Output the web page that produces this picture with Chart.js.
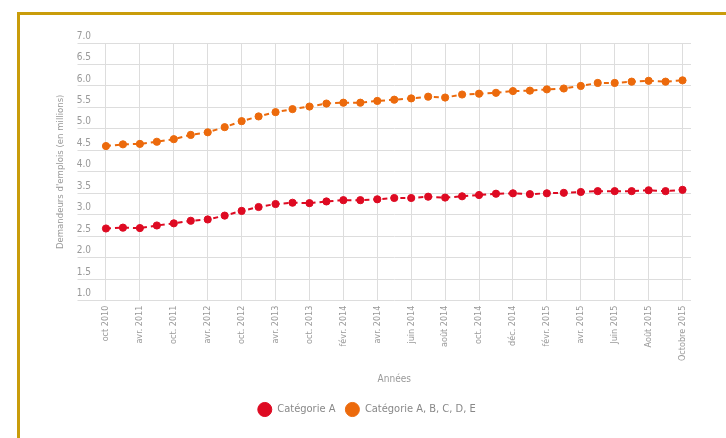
<!DOCTYPE html>
<html lang="fr">
<head>
<meta charset="utf-8">
<title>Demandeurs d'emplois</title>
<script src="https://cdn.jsdelivr.net/npm/chart.js@4.4.1/dist/chart.umd.min.js"></script>
<style>
  body { margin: 0; background: #fff; }
  .cadre {
    position: absolute; left: 17px; top: 12px;
    width: 800px; height: 500px;
    border: 3px solid #c99c0a;
  }
  .graph {
    position: absolute; left: 20px; top: 15px;
    width: 692px; height: 410px;
  }
</style>
</head>
<body>
<div class="cadre"></div>
<div class="graph"><canvas id="chomage"></canvas></div>
<script>
const mois = [
  "oct 2010", "janv. 2011", "avr. 2011", "juil. 2011", "oct. 2011", "janv. 2012",
  "avr. 2012", "juil. 2012", "oct. 2012", "janv. 2013", "avr. 2013", "juil. 2013",
  "oct. 2013", "déc. 2013", "févr. 2014", "mars 2014", "avr. 2014", "mai 2014",
  "juin 2014", "juil. 2014", "août 2014", "sept. 2014", "oct. 2014", "nov. 2014",
  "déc. 2014", "janv. 2015", "févr. 2015", "mars 2015", "avr. 2015", "mai 2015",
  "Juin 2015", "juil. 2015", "Août 2015", "sept. 2015", "Octobre 2015"
];

const categorieA = [
  2.68, 2.70, 2.69, 2.75, 2.80, 2.86, 2.89, 2.98, 3.09, 3.18, 3.25, 3.28,
  3.27, 3.31, 3.34, 3.34, 3.36, 3.39, 3.39, 3.42, 3.40, 3.43, 3.46, 3.49,
  3.50, 3.48, 3.50, 3.51, 3.53, 3.55, 3.55, 3.55, 3.57, 3.55, 3.58
];

const categorieABCDE = [
  4.60, 4.64, 4.65, 4.70, 4.76, 4.86, 4.92, 5.04, 5.18, 5.29, 5.39, 5.46,
  5.52, 5.59, 5.61, 5.61, 5.65, 5.68, 5.71, 5.75, 5.73, 5.80, 5.82, 5.84,
  5.88, 5.89, 5.92, 5.94, 6.00, 6.07, 6.07, 6.10, 6.12, 6.10, 6.13
];

const nomsSeries = ["Catégorie A", "Catégorie A, B, C, D, E"];
const couleurs = ["#de0a22", "#ec6a0c"];

const police = "'Liberation Sans Narrow', 'DejaVu Sans Condensed', sans-serif";
const gris = "#999999";
const grille = "#dddddd";

function serie(nom, valeurs, couleur) {
  return {
    label: nom,
    data: valeurs,
    borderColor: couleur,
    backgroundColor: couleur,
    borderWidth: 2,
    borderDash: [5, 4],
    pointRadius: 3.6,
    pointHoverRadius: 4,
    pointBorderWidth: 1,
    pointBorderColor: couleur,
    pointBackgroundColor: couleur,
    tension: 0
  };
}

new Chart(document.getElementById("chomage"), {
  type: "line",
  data: {
    labels: mois,
    datasets: [
      serie(nomsSeries[0], categorieA, couleurs[0]),
      serie(nomsSeries[1], categorieABCDE, couleurs[1])
    ]
  },
  options: {
    responsive: true,
    maintainAspectRatio: false,
    animation: false,
    // marge gauche pour centrer la légende comme sur l'original
    layout: { padding: { top: 28, right: 21, left: 22.5, bottom: 0 } },
    scales: {
      x: {
        offset: true,
        border: { display: false },
        grid: {
          offset: false,
          drawTicks: false,
          color: (c) => (c.index % 2 === 0 ? grille : "transparent")
        },
        ticks: {
          autoSkip: false,
          minRotation: 90,
          maxRotation: 90,
          padding: 5,
          color: gris,
          font: { family: police, size: 9 },
          callback: function (v, i) { return i % 2 === 0 ? this.getLabelForValue(v) : ""; }
        },
        title: {
          display: true,
          text: "Années",
          color: gris,
          font: { family: police, size: 10 },
          padding: { top: 7, bottom: 9 }
        }
      },
      y: {
        min: 1,
        max: 7,
        border: { display: false },
        grid: { color: grille, tickLength: 20 },
        afterFit: (s) => { s.width = 55; },
        ticks: {
          stepSize: 0.5,
          padding: -13.5,
          labelOffset: -7,
          color: gris,
          font: { family: police, size: 10 },
          callback: (v) => v.toFixed(1)
        },
        title: {
          display: true,
          text: "Demandeurs d'emplois (en millions)",
          color: gris,
          font: { family: police, size: 9.5 },
          padding: { top: 12.5 }
        }
      }
    },
    plugins: {
      legend: {
        position: "bottom",
        labels: {
          usePointStyle: true,
          pointStyle: "circle",
          boxHeight: 10,
          pointStyleWidth: 14,
          padding: 10,
          color: "#888888",
          font: { family: police, size: 11 }
        }
      },
      tooltip: { enabled: false }
    }
  }
});
</script>
</body>
</html>
